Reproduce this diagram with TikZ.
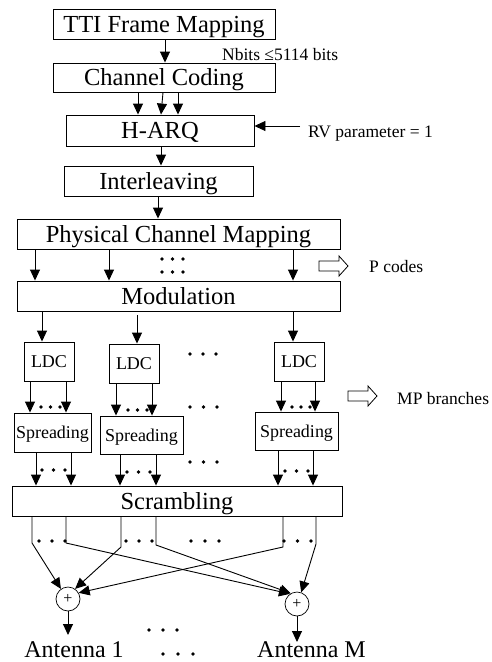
\documentclass[tikz,border=0pt]{standalone}
\usepackage{fontspec}
\setmainfont{Liberation Serif}
\usetikzlibrary{arrows.meta}

\begin{document}
\begin{tikzpicture}[x=1pt,y=-1pt,
  arr/.style={-{Triangle[length=11pt,width=10pt]}, line width=0.9pt},
  blk/.style={draw, line width=0.9pt, inner sep=0pt,
    font=\fontsize{24.5}{28}\selectfont, text height=16pt, text depth=0pt},
  sblk/.style={blk, font=\fontsize{18}{20}\selectfont, text height=12pt},
  lbl/.style={inner sep=0pt, font=\fontsize{17.5}{20}\selectfont,
    text height=11.6pt, text depth=0pt, anchor=west},
  ant/.style={inner sep=0pt, anchor=base, font=\fontsize{24}{28}\selectfont},
  sum/.style={draw, circle, minimum size=24pt, inner sep=0pt, line width=0.7pt,
    font=\fontsize{16}{16}\selectfont},
  pics/dotrow/.style={code={\foreach \i in {-1,0,1} \fill (\i*#1,0) circle (1.8pt);}},
  pics/openarrow/.style={code={\draw[line width=0.8pt]
    (0,-5) -- (20,-5) -- (20,-10) -- (29,0) -- (20,10) -- (20,5) -- (0,5) -- cycle;}},
]
\useasboundingbox (0,0) rectangle (492,662);

% processing chain
\node[blk, minimum width=222pt, minimum height=30pt] (tti)  at (164,24)    {TTI Frame Mapping};
\node[blk, minimum width=222pt, minimum height=29pt] (cc)   at (164,77.5)  {Channel Coding};
\node[blk, minimum width=188pt, minimum height=31pt] (harq) at (160,130.5) {H-ARQ};
\node[blk, minimum width=189pt, minimum height=30pt] (intl) at (158.5,181) {Interleaving};
\node[blk, minimum width=323pt, minimum height=30pt] (pcm)  at (178.5,234) {Physical Channel Mapping};
\node[blk, minimum width=323pt, minimum height=30pt] (mod)  at (178.5,296) {Modulation};

% per-code branches
\node[sblk, minimum width=50pt, minimum height=39pt] (ldc1) at (49,361.5)  {LDC};
\node[sblk, minimum width=50pt, minimum height=39pt] (ldc2) at (134,363.5) {LDC};
\node[sblk, minimum width=50pt, minimum height=39pt] (ldc3) at (299,361.5) {LDC};
\node[sblk, minimum width=77pt, minimum height=39pt] (sp1) at (52.5,432.5) {Spreading};
\node[sblk, minimum width=83pt, minimum height=38pt] (sp2) at (141.5,435)  {Spreading};
\node[sblk, minimum width=83pt, minimum height=38pt] (sp3) at (296.5,431)  {Spreading};

\node[blk, minimum width=330pt, minimum height=30pt] (scr) at (177,501) {Scrambling};

% antenna combiners
\node[sum] (sum1) at (68,599) {+};
\node[sum] (sumM) at (297,604) {+};
\node[ant] (ant1) at (74,657)    {Antenna 1};
\node[ant] (antM) at (311.5,657) {Antenna M};
\coordinate (a1) at (68,635);
\coordinate (aM) at (297,642);

% side labels
\node[lbl] (nbits) at (222,54.5) {Nbits ≤5114 bits};
\node[lbl] (rvl)   at (308,132)  {RV parameter = 1};
\node[lbl] (pc)    at (369,267)  {P codes};
\node[lbl] (mp)    at (397,399)  {MP branches};
\coordinate (rv) at (300,126);
\pic at (319,266) {openarrow};
\pic at (348,396) {openarrow};

% connectors
\draw[arr] (165,0 |- tti.south) -- (165,0 |- cc.north);
\draw[arr] (138,0 |- cc.south) -- (138,0 |- harq.north);
\draw[arr] (163,0 |- cc.south) -- (161,0 |- harq.north);
\draw[arr] (178,0 |- cc.south) -- (178,0 |- harq.north);
\draw[arr] (rv) -- (rv -| harq.east);
\draw[arr] (161,0 |- harq.south) -- (161,0 |- intl.north);
\draw[arr] (158,0 |- intl.south) -- (158,0 |- pcm.north);
\foreach \x in {35,109,293}
  \draw[arr] (\x,0 |- pcm.south) -- (\x,0 |- mod.north);
\draw[arr] (42,0 |- mod.south) -- (42,0 |- ldc1.north);
\draw[arr] ([yshift=-4pt]137,0 |- mod.south) -- (137,0 |- ldc2.north);
\draw[arr] (293,0 |- mod.south) -- (293,0 |- ldc3.north);

\foreach \x in {30,66}   \draw[arr] (\x,0 |- ldc1.south) -- (\x,0 |- sp1.north);
\foreach \x in {116,152} \draw[arr] (\x,0 |- ldc2.south) -- (\x,0 |- sp2.north);
\foreach \x in {281,315} \draw[arr] (\x,0 |- ldc3.south) -- (\x,0 |- sp3.north);

\foreach \x in {36,71}   \draw[arr] (\x,0 |- sp1.south) -- (\x,0 |- scr.north);
\foreach \x in {120,156} \draw[arr] (\x,0 |- sp2.south) -- (\x,0 |- scr.north);
\foreach \x in {278,313} \draw[arr] (\x,0 |- sp3.south) -- (\x,0 |- scr.north);

\draw[arr] (32,0 |- scr.south)  -- (32,543)  -- (sum1.125);
\draw[arr] (66,0 |- scr.south)  -- (66,543)  -- (sumM.125);
\draw[arr] (121,0 |- scr.south) -- (121,547) -- (sum1.55);
\draw[arr] (156,0 |- scr.south) -- (156,545) -- (sumM.120);
\draw[arr] (283,0 |- scr.south) -- (283,547) -- (sum1.30);
\draw[arr] (316,0 |- scr.south) -- (316,544) -- (sumM.70);

\draw[arr] (sum1) -- (a1);
\draw[arr] (sumM) -- (aM);

% ellipsis marks
\pic at (172.5,259) {dotrow=10.5};
\pic at (172.5,272) {dotrow=10.5};
\pic at (203,354)   {dotrow=13};
\pic at (50.5,407)  {dotrow=9.5};
\pic at (137.5,410) {dotrow=9.5};
\pic at (301,407)   {dotrow=9};
\pic at (203.5,407) {dotrow=13.5};
\pic at (53.5,470)  {dotrow=11.5};
\pic at (138.5,472) {dotrow=11.5};
\pic at (296.5,471) {dotrow=11.5};
\pic at (203.5,462) {dotrow=13.5};
\pic at (52,541)    {dotrow=13};
\pic at (139,541)   {dotrow=13};
\pic at (205,541)   {dotrow=14};
\pic at (297.5,541) {dotrow=13.5};
\pic at (163,630)   {dotrow=14};
\pic at (178,654)   {dotrow=15};
\end{tikzpicture}
\end{document}
